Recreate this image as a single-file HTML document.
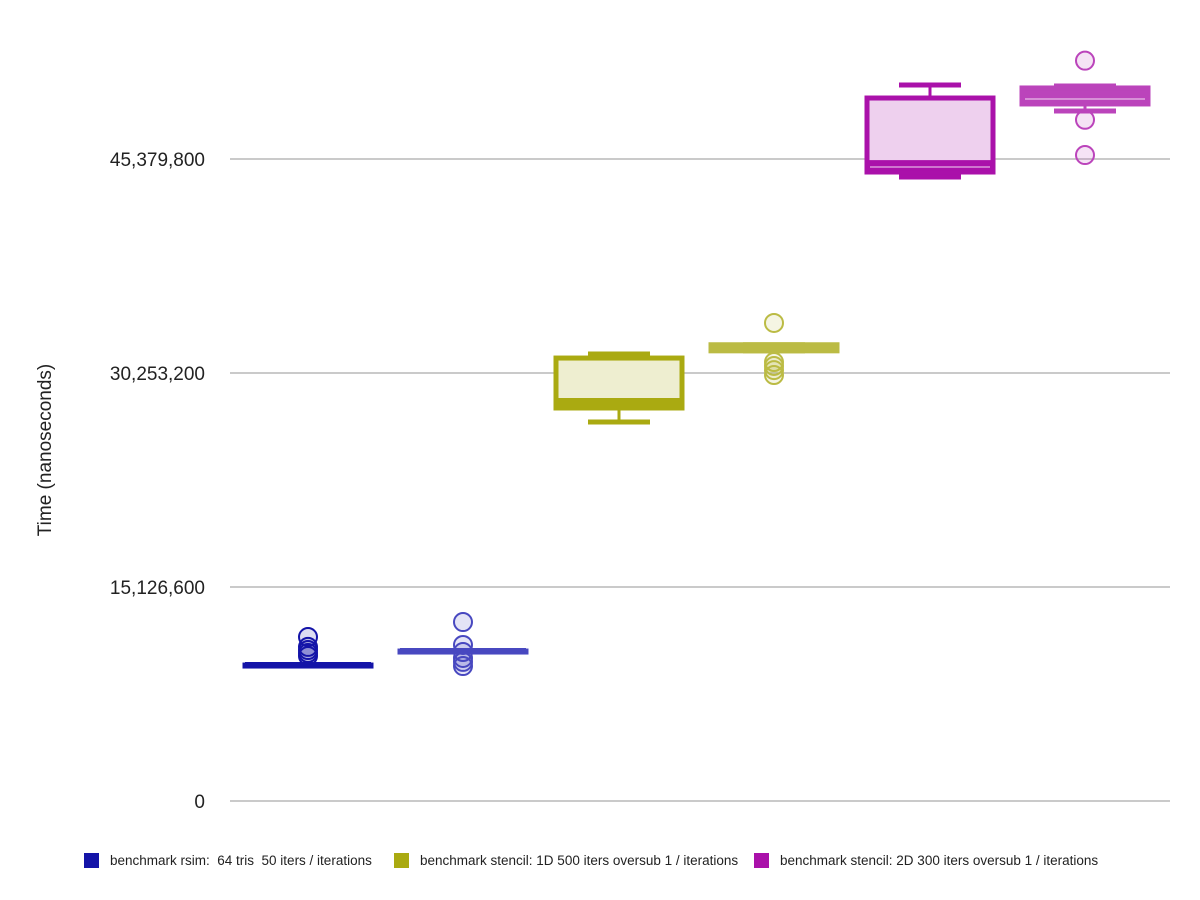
<!DOCTYPE html>
<html><head><meta charset="utf-8"><style>
body{margin:0;background:#fff;font-family:"Liberation Sans",sans-serif}
svg{display:block}
</style></head><body>
<svg id="chart" width="1200" height="900"></svg>
<script>
const tickValues=[0,15126600,30253200,45379800];
const tickLabels=["0","15,126,600","30,253,200","45,379,800"];
const seriesNames=["benchmark rsim:  64 tris  50 iters / iterations","benchmark stencil: 1D 500 iters oversub 1 / iterations","benchmark stencil: 2D 300 iters oversub 1 / iterations"];
const boxMin=[9610000,10600000,26790000,31820000,44110000,48770000];
const boxQ1=[9610000,10600000,27780000,31820000,44460000,49270000];
const boxMed=[9610000,10600000,28130000,32030000,44950000,49620000];
const boxQ3=[9610000,10600000,31310000,32250000,49690000,50400000];
const boxMax=[9610000,10600000,31600000,32250000,50610000,50540000];
const outliers=[[11590000,10890000,10670000,10460000,10250000],[12650000,11030000,10530000,10110000,9830000,9540000],[],[33790000,31030000,30750000,30460000,30110000],[],[52330000,48150000,45660000]];
const colors=["#1414a8","#4848c0","#aaaa11","#bbbb44","#aa11aa","#bb44bb"];
const fills=["#dcdcf0","#dcdcf0","#eeeed0","#eeeed0","#eed0ee","#bb44bb"];
const centers=[308,463,619,774,930,1085];
const NS="http://www.w3.org/2000/svg";
const svg=document.getElementById('chart');
function y(v){return 801-v/15126600*214;}
function mk(t,a,p){const e=document.createElementNS(NS,t);for(const k in a)e.setAttribute(k,a[k]);(p||svg).appendChild(e);return e;}
tickValues.forEach((v,i)=>{
 const l=mk('line',{x1:230,x2:1170,y1:y(v),y2:y(v),stroke:'#aaa','stroke-width':1.3});
 
 
 const t=mk('text',{x:205,y:y(v)+7,'text-anchor':'end','font-size':19,fill:'#222'});
 t.textContent=tickLabels[i];
 
 
});
const tt=mk('text',{x:0,y:0,transform:'translate(51,450) rotate(-90)','text-anchor':'middle','font-size':19,fill:'#222'});
tt.textContent='Time (nanoseconds)';


const hw=63;
centers.forEach((cx,i)=>{
 const g=mk('g',{});
 
 
 const c=colors[i];
 mk('line',{x1:cx,x2:cx,y1:y(boxMax[i]),y2:y(boxMin[i]),stroke:c,'stroke-width':3},g);
 mk('line',{x1:cx-31,x2:cx+31,y1:y(boxMax[i]),y2:y(boxMax[i]),stroke:c,'stroke-width':5},g);
 mk('line',{x1:cx-31,x2:cx+31,y1:y(boxMin[i]),y2:y(boxMin[i]),stroke:c,'stroke-width':5},g);
 const top=y(boxQ3[i]),bot=y(boxQ1[i]);
 mk('rect',{x:cx-hw,y:top,width:2*hw,height:Math.max(bot-top,1),fill:fills[i],stroke:c,'stroke-width':5},g);
 const mw=i===2||i===4?10:6;
 mk('line',{x1:cx-hw,x2:cx+hw,y1:y(boxMed[i]),y2:y(boxMed[i]),stroke:c,'stroke-width':mw},g);
 if(i===4) mk('line',{x1:cx-hw+3,x2:cx+hw-3,y1:bot-5,y2:bot-5,stroke:'#f3dcf3','stroke-width':1},g);
 if(i===5) mk('line',{x1:cx-hw+3,x2:cx+hw-3,y1:y(boxMed[i]),y2:y(boxMed[i]),stroke:'#f3dcf3','stroke-width':1},g);
 outliers[i].forEach(v=>{
  const o=mk('circle',{cx:cx,cy:y(v),r:9,fill:c,'fill-opacity':0.15,stroke:c,'stroke-width':2});
  
  
 });
});
const lx=[84,394,754];
seriesNames.forEach((n,i)=>{
 const g=mk('g',{});
 
 
 mk('rect',{x:lx[i],y:853,width:15,height:15,fill:colors[i*2]},g);
 const t=mk('text',{x:lx[i]+26,y:865,'font-size':13.5,fill:'#222'},g);
 t.style.whiteSpace='pre';
 t.textContent=n;
});
</script>
</body></html>
